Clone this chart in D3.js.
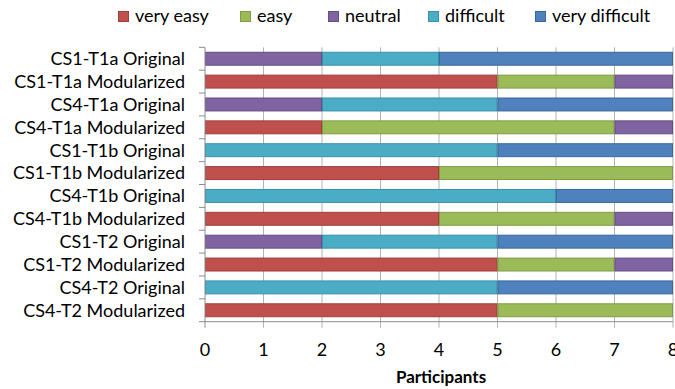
<!DOCTYPE html>
<html>
<head>
<meta charset="utf-8">
<script src="https://cdn.jsdelivr.net/npm/d3@7"></script>
<style>
  html, body { margin: 0; padding: 0; background: #fff; }
  svg { display: block; font-family: Lato, "Open Sans", sans-serif; }
</style>
</head>
<body>
<svg id="chart" width="675" height="389"></svg>
<script>
// Perceived difficulty ratings per task variant (number of participants)
const categories = [
  "CS1-T1a Original", "CS1-T1a Modularized",
  "CS4-T1a Original", "CS4-T1a Modularized",
  "CS1-T1b Original", "CS1-T1b Modularized",
  "CS4-T1b Original", "CS4-T1b Modularized",
  "CS1-T2 Original", "CS1-T2 Modularized",
  "CS4-T2 Original", "CS4-T2 Modularized"
];
const seriesNames = ["very easy", "easy", "neutral", "difficult", "very difficult"];
const veryEasy      = [0, 5, 0, 2, 0, 4, 0, 4, 0, 5, 0, 5];
const easy          = [0, 2, 0, 5, 0, 4, 0, 3, 0, 2, 0, 3];
const neutral       = [2, 1, 2, 1, 0, 0, 0, 1, 2, 1, 0, 0];
const difficult     = [2, 0, 3, 0, 5, 0, 6, 0, 3, 0, 5, 0];
const veryDifficult = [4, 0, 3, 0, 3, 0, 2, 0, 3, 0, 3, 0];
const xTicks = [0, 1, 2, 3, 4, 5, 6, 7, 8];
const xTitle = "Participants";

const colors = ["#C0504D", "#9BBB59", "#8064A2", "#4BACC6", "#4F81BD"];
const strokes = ["#A33E3B", "#7F9C45", "#654D85", "#3691A9", "#3A679C"];

const rows = categories.map((c, i) => ({
  category: c,
  "very easy": veryEasy[i],
  "easy": easy[i],
  "neutral": neutral[i],
  "difficult": difficult[i],
  "very difficult": veryDifficult[i]
}));

const svg = d3.select("#chart");
const plotLeft = 205, plotRight = 673, plotTop = 47.3, plotBottom = 321.7;

const x = d3.scaleLinear().domain([0, 8]).range([plotLeft, plotRight]);
const y = d3.scaleBand().domain(categories).range([plotTop, plotBottom])
  .paddingInner(0.39).paddingOuter(0.195);
const color = d3.scaleOrdinal().domain(seriesNames).range(colors);
const strokeC = d3.scaleOrdinal().domain(seriesNames).range(strokes);

// vertical gridlines (with tick extension below the axis)
svg.append("g").selectAll("line").data(xTicks.slice(1)).join("line")
  .attr("x1", d => x(d)).attr("x2", d => x(d))
  .attr("y1", plotTop).attr("y2", plotBottom + 6)
  .attr("stroke", "#B3B3B3").attr("stroke-width", 1);
svg.append("line")
  .attr("x1", x(0)).attr("x2", x(0)).attr("y1", plotBottom).attr("y2", plotBottom + 6)
  .attr("stroke", "#8C8C8C");

// stacked bars
const stacked = d3.stack().keys(seriesNames)(rows);
svg.append("g").selectAll("g").data(stacked).join("g")
  .attr("fill", d => color(d.key))
  .attr("stroke", d => strokeC(d.key))
  .selectAll("rect").data(d => d.filter(s => s[1] - s[0] > 0)).join("rect")
  .attr("x", d => x(d[0]) + 0.5)
  .attr("y", d => y(d.data.category) + 0.5)
  .attr("width", d => x(d[1]) - x(d[0]) - 1)
  .attr("height", y.bandwidth() - 1)
  .attr("stroke-width", 1);

// category axis: line plus ticks at band boundaries
const step = y.step();
svg.append("line")
  .attr("x1", plotLeft).attr("x2", plotLeft).attr("y1", plotTop).attr("y2", plotBottom)
  .attr("stroke", "#8C8C8C");
svg.append("g").selectAll("line").data(d3.range(categories.length + 1)).join("line")
  .attr("x1", plotLeft - 6).attr("x2", plotLeft)
  .attr("y1", i => plotTop + i * step).attr("y2", i => plotTop + i * step)
  .attr("stroke", "#8C8C8C");
svg.append("g").selectAll("text").data(categories).join("text")
  .attr("x", 185).attr("y", d => y(d) + y.bandwidth() / 2)
  .attr("dy", "0.35em").attr("text-anchor", "end")
  .attr("font-size", 18).attr("fill", "#000")
  .text(d => d);

// value axis
svg.append("line")
  .attr("x1", plotLeft).attr("x2", plotRight).attr("y1", plotBottom).attr("y2", plotBottom)
  .attr("stroke", "#8C8C8C");
svg.append("g").selectAll("text").data(xTicks).join("text")
  .attr("x", d => x(d)).attr("y", 356)
  .attr("text-anchor", "middle").attr("font-size", 18).attr("fill", "#000")
  .text(d => d);
svg.append("text")
  .attr("x", 441).attr("y", 383)
  .attr("text-anchor", "middle").attr("font-size", 17).attr("font-weight", "bold")
  .text(xTitle);

// legend
const legendX = [118, 240, 328, 428, 535];
const lg = svg.append("g").selectAll("g").data(seriesNames).join("g")
  .attr("transform", (d, i) => `translate(${legendX[i]},11)`);
lg.append("rect").attr("width", 10).attr("height", 10)
  .attr("x", 0.5).attr("y", 0.5)
  .attr("fill", d => color(d)).attr("stroke", d => strokeC(d));
lg.append("text").attr("x", 17).attr("y", 10.5)
  .attr("font-size", 18).text(d => d);
</script>
</body>
</html>
